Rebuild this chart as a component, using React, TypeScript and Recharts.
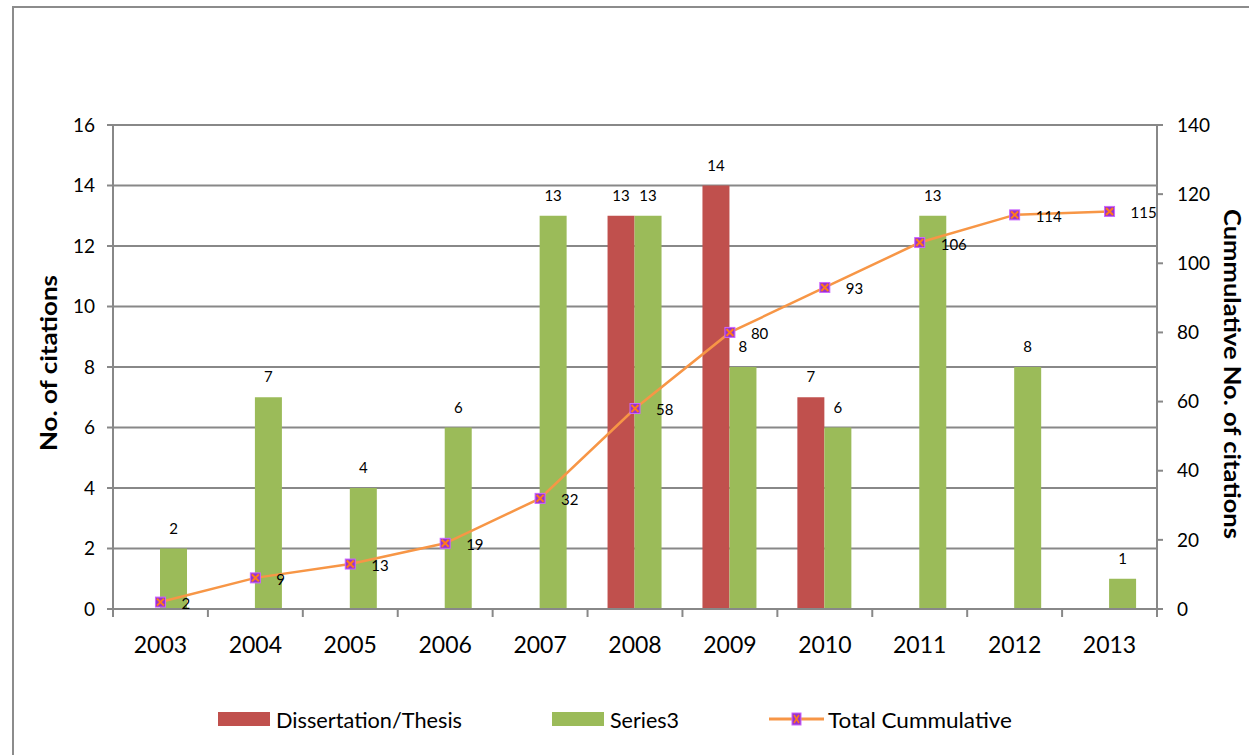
import React from "react";
import {
  ComposedChart,
  Bar,
  Line,
  XAxis,
  YAxis,
  CartesianGrid,
  LabelList,
} from "recharts";

const years = ["2003", "2004", "2005", "2006", "2007", "2008", "2009", "2010", "2011", "2012", "2013"];
const thesis = [0, 0, 0, 0, 0, 13, 14, 7, 0, 0, 0];
const series3 = [2, 7, 4, 6, 13, 13, 8, 6, 13, 8, 1];
const cumulative = [2, 9, 13, 19, 32, 58, 80, 93, 106, 114, 115];
const leftTicks = [0, 2, 4, 6, 8, 10, 12, 14, 16];
const rightTicks = [0, 20, 40, 60, 80, 100, 120, 140];

const data = years.map((y, i) => ({
  year: y,
  thesis: thesis[i],
  series3: series3[i],
  cum: cumulative[i],
}));

const W = 1249;
const H = 755;
const PLOT_L = 113;
const PLOT_R = 1157;
const PLOT_T = 125;
const PLOT_B = 609;
const FONT = "Lato, 'Open Sans', sans-serif";
const GRAY = "#888888";
const RED = "#C0504D";
const GREEN = "#9BBB59";
const ORANGE = "#F79646";

const XTick = (props: any) => {
  const { x, payload, index } = props;
  const band = (PLOT_R - PLOT_L) / years.length;
  return (
    <g>
      <line x1={x - band / 2} y1={PLOT_B} x2={x - band / 2} y2={PLOT_B + 8} stroke={GRAY} strokeWidth={2} />
      {index === years.length - 1 && (
        <line x1={x + band / 2} y1={PLOT_B} x2={x + band / 2} y2={PLOT_B + 8} stroke={GRAY} strokeWidth={2} />
      )}
      <text x={x} y={PLOT_B + 35} textAnchor="middle" dominantBaseline="central" fontSize={23} fill="#000" fontFamily={FONT}>
        {payload.value}
      </text>
    </g>
  );
};

const Marker = (props: any) => {
  const { cx, cy } = props;
  if (cx == null || cy == null) return null;
  const s = 5;
  return (
    <g>
      <rect x={cx - s} y={cy - s} width={2 * s} height={2 * s} fill="#9933CC" stroke="#CC66FF" strokeWidth={1} />
      <line x1={cx - 3.5} y1={cy - 3.5} x2={cx + 3.5} y2={cy + 3.5} stroke="#FF7A1A" strokeWidth={2} />
      <line x1={cx - 3.5} y1={cy + 3.5} x2={cx + 3.5} y2={cy - 3.5} stroke="#FF7A1A" strokeWidth={2} />
    </g>
  );
};

const barLabel = (props: any) => {
  const { x, y, width, value } = props;
  if (!value) return null;
  return (
    <text x={x + width / 2} y={y - 21} textAnchor="middle" dominantBaseline="central" fontSize={15} fill="#000" fontFamily={FONT}>
      {value}
    </text>
  );
};

const lineLabel = (props: any) => {
  const { x, y, value } = props;
  return (
    <text x={x + 21} y={y + 1} textAnchor="start" dominantBaseline="central" fontSize={15} fill="#000" fontFamily={FONT}>
      {value}
    </text>
  );
};

const legendItems = [
  { name: "Dissertation/Thesis", type: "bar", color: RED },
  { name: "Series3", type: "bar", color: GREEN },
  { name: "Total Cummulative", type: "line", color: ORANGE },
];
const LEGEND_TEXT_W = [186, 69, 184];

const Legend2 = () => {
  let x = 218;
  const cy = 719;
  const out: any[] = [];
  legendItems.forEach((it, i) => {
    const x0 = x;
    let tx;
    if (it.type === "bar") {
      out.push(<rect key={"s" + i} x={x0} y={cy - 7} width={52} height={14} fill={it.color} />);
      tx = x0 + 58;
    } else {
      out.push(
        <g key={"s" + i}>
          <line x1={x0} y1={cy} x2={x0 + 55} y2={cy} stroke={it.color} strokeWidth={3} />
          <rect x={x0 + 23} y={cy - 6} width={9} height={12} fill="#9933CC" stroke="#CC66FF" />
          <line x1={x0 + 25} y1={cy - 4} x2={x0 + 30} y2={cy + 4} stroke="#FF7A1A" strokeWidth={1.5} />
          <line x1={x0 + 25} y1={cy + 4} x2={x0 + 30} y2={cy - 4} stroke="#FF7A1A" strokeWidth={1.5} />
        </g>
      );
      tx = x0 + 59;
    }
    out.push(
      <text
        key={"t" + i}
        x={tx}
        y={cy}
        dominantBaseline="central"
        fontSize={22}
        fontFamily={FONT}
        fill="#000"
        textLength={LEGEND_TEXT_W[i]}
        lengthAdjust="spacingAndGlyphs"
      >
        {it.name}
      </text>
    );
    x = tx + LEGEND_TEXT_W[i] + 90;
  });
  return (
    <svg width={W} height={H} style={{ position: "absolute", left: 0, top: 0, pointerEvents: "none" }}>
      {out}
    </svg>
  );
};

export default function App() {
  const midY = (PLOT_T + PLOT_B) / 2;
  return (
    <div style={{ position: "absolute", left: 0, top: 0, width: W, height: H, overflow: "hidden", background: "#fff" }}>
      <div
        style={{
          position: "absolute",
          left: 12,
          top: 6,
          width: W + 50,
          height: H + 50,
          borderLeft: "2px solid #8c8c8c",
          borderTop: "2px solid #8c8c8c",
        }}
      />
      <div style={{ position: "absolute", left: 0, top: 0 }}>
        <ComposedChart
          width={W}
          height={H}
          data={data}
          margin={{ top: PLOT_T, right: 0, bottom: H - PLOT_B - 60, left: 0 }}
          barGap={0}
        >
          <CartesianGrid yAxisId="left" vertical={false} stroke={GRAY} strokeWidth={2} ticks={leftTicks} />
          <XAxis
            dataKey="year"
            height={60}
            axisLine={{ stroke: GRAY, strokeWidth: 2 }}
            tickLine={false}
            tick={<XTick />}
            interval={0}
          />
          <YAxis
            yAxisId="left"
            orientation="left"
            width={PLOT_L}
            domain={[0, 16]}
            ticks={leftTicks}
            interval={0}
            axisLine={{ stroke: GRAY, strokeWidth: 2 }}
            tickLine={{ stroke: GRAY, strokeWidth: 2 }}
            tickSize={6}
            tickMargin={12}
            tick={{ fontSize: 19, fill: "#000", fontFamily: FONT }}
            label={{
              position: "center",
              content: () => (
                <text
                  x={48}
                  y={midY - 4}
                  transform={`rotate(-90 48 ${midY - 4})`}
                  textAnchor="middle"
                  dominantBaseline="central"
                  fontSize={23}
                  fontWeight="bold"
                  fill="#000"
                  fontFamily={FONT}
                  textLength={176}
                  lengthAdjust="spacingAndGlyphs"
                >
                  No. of citations
                </text>
              ),
            }}
          />
          <YAxis
            yAxisId="right"
            orientation="right"
            width={W - PLOT_R}
            domain={[0, 140]}
            ticks={rightTicks}
            interval={0}
            axisLine={{ stroke: GRAY, strokeWidth: 2 }}
            tickLine={{ stroke: GRAY, strokeWidth: 2 }}
            tickSize={6}
            tickMargin={14}
            tick={{ fontSize: 19, fill: "#000", fontFamily: FONT }}
            label={{
              position: "center",
              content: () => (
                <text
                  x={1233}
                  y={midY + 7}
                  transform={`rotate(90 1233 ${midY + 7})`}
                  textAnchor="middle"
                  dominantBaseline="central"
                  fontSize={23}
                  fontWeight="bold"
                  fill="#000"
                  fontFamily={FONT}
                  textLength={330}
                  lengthAdjust="spacingAndGlyphs"
                >
                  Cummulative No. of citations
                </text>
              ),
            }}
          />
          <Bar yAxisId="left" dataKey="thesis" name="Dissertation/Thesis" fill={RED} barSize={27} isAnimationActive={false}>
            <LabelList dataKey="thesis" content={barLabel} />
          </Bar>
          <Bar yAxisId="left" dataKey="series3" name="Series3" fill={GREEN} barSize={27} isAnimationActive={false}>
            <LabelList dataKey="series3" content={barLabel} />
          </Bar>
          <Line
            yAxisId="right"
            dataKey="cum"
            name="Total Cummulative"
            stroke={ORANGE}
            strokeWidth={2.5}
            type="linear"
            dot={<Marker />}
            activeDot={false}
            isAnimationActive={false}
          >
            <LabelList dataKey="cum" content={lineLabel} />
          </Line>
        </ComposedChart>
      </div>
      <Legend2 />
    </div>
  );
}
